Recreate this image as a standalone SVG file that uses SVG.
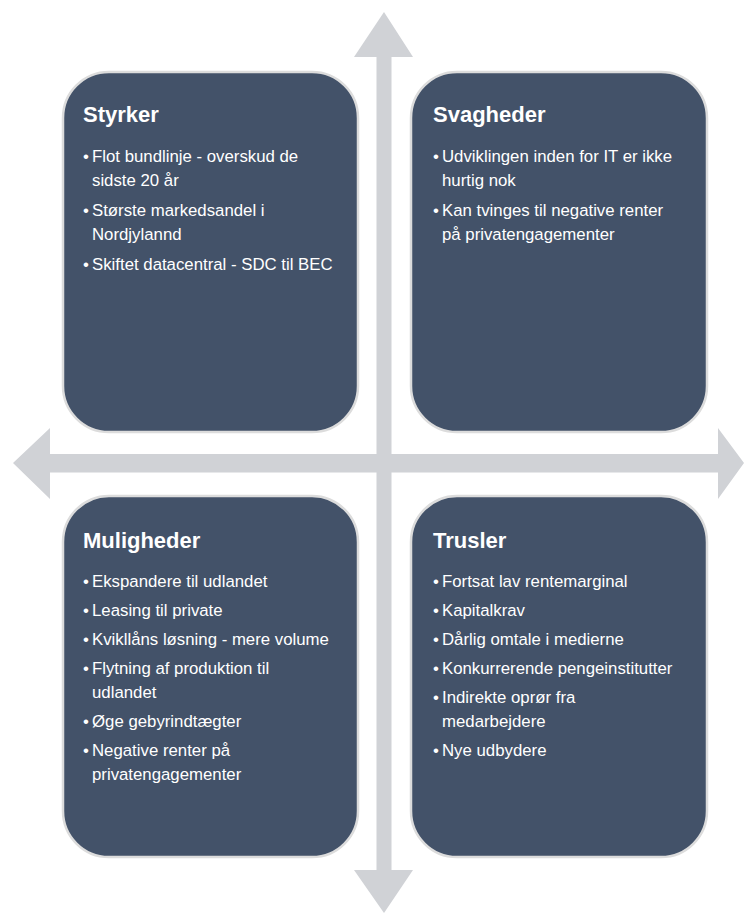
<svg xmlns="http://www.w3.org/2000/svg" width="745" height="914" viewBox="0 0 745 914">
<style>
.box{fill:#435269;stroke:#dcdcdc;stroke-width:2.5}
.arrow{fill:#d0d2d6}
.title{font-family:"Liberation Sans",Arial,sans-serif;font-weight:bold;font-size:22px;fill:#ffffff}
.item{font-family:"Liberation Sans",Arial,sans-serif;font-size:16.8px;fill:#ffffff}
</style>
<rect width="745" height="914" fill="#ffffff"/>
<g id="connectors">
<polygon class="arrow" points="384,12 413,57 391.5,57 391.5,870 413,870 384,913 354,870 376.5,870 376.5,57 354,57"/>
<polygon class="arrow" points="13,463 50,428 50,454 718,454 718,428 744,463 718,499 718,472.5 50,472.5 50,499"/>
</g>
<g id="styrker">
<rect class="box" x="63" y="72" width="295" height="360" rx="46" ry="46"/>
<text class="title" x="83" y="122">Styrker</text>
<text class="item"><tspan x="83" y="162">•</tspan><tspan x="92" y="162">Flot bundlinje - overskud de</tspan><tspan x="92" y="186">sidste 20 år</tspan><tspan x="83" y="216">•</tspan><tspan x="92" y="216">Største markedsandel i</tspan><tspan x="92" y="240">Nordjylannd</tspan><tspan x="83" y="270">•</tspan><tspan x="92" y="270">Skiftet datacentral - SDC til BEC</tspan></text>
</g>
<g id="svagheder">
<rect class="box" x="411" y="72" width="296" height="360" rx="46" ry="46"/>
<text class="title" x="433" y="122">Svagheder</text>
<text class="item"><tspan x="433" y="162">•</tspan><tspan x="442" y="162">Udviklingen inden for IT er ikke</tspan><tspan x="442" y="186">hurtig nok</tspan><tspan x="433" y="216">•</tspan><tspan x="442" y="216">Kan tvinges til negative renter</tspan><tspan x="442" y="240">på privatengagementer</tspan></text>
</g>
<g id="muligheder">
<rect class="box" x="63" y="496" width="295" height="361" rx="46" ry="46"/>
<text class="title" x="83" y="548">Muligheder</text>
<text class="item"><tspan x="83" y="587">•</tspan><tspan x="92" y="587">Ekspandere til udlandet</tspan><tspan x="83" y="616">•</tspan><tspan x="92" y="616">Leasing til private</tspan><tspan x="83" y="645">•</tspan><tspan x="92" y="645">Kvikllåns løsning - mere volume</tspan><tspan x="83" y="674">•</tspan><tspan x="92" y="674">Flytning af produktion til</tspan><tspan x="92" y="698">udlandet</tspan><tspan x="83" y="727">•</tspan><tspan x="92" y="727">Øge gebyrindtægter</tspan><tspan x="83" y="756">•</tspan><tspan x="92" y="756">Negative renter på</tspan><tspan x="92" y="780">privatengagementer</tspan></text>
</g>
<g id="trusler">
<rect class="box" x="411" y="496" width="296" height="361" rx="46" ry="46"/>
<text class="title" x="433" y="548">Trusler</text>
<text class="item"><tspan x="433" y="587">•</tspan><tspan x="442" y="587">Fortsat lav rentemarginal</tspan><tspan x="433" y="616">•</tspan><tspan x="442" y="616">Kapitalkrav</tspan><tspan x="433" y="645">•</tspan><tspan x="442" y="645">Dårlig omtale i medierne</tspan><tspan x="433" y="674">•</tspan><tspan x="442" y="674">Konkurrerende pengeinstitutter</tspan><tspan x="433" y="703">•</tspan><tspan x="442" y="703">Indirekte oprør fra</tspan><tspan x="442" y="727">medarbejdere</tspan><tspan x="433" y="756">•</tspan><tspan x="442" y="756">Nye udbydere</tspan></text>
</g>
</svg>
